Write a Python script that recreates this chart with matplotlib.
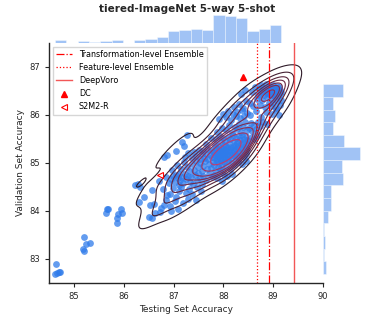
import numpy as np
import matplotlib
matplotlib.use("Agg")
import matplotlib.pyplot as plt
import seaborn as sns
from matplotlib.colors import LinearSegmentedColormap

# (testing acc, validation acc) of the sampled ensembles, grouped by region
tail = [
    (84.64, 82.89), (84.62, 82.69), (84.67, 82.71), (84.70, 82.72), (84.72, 82.73),
    (85.20, 83.46), (85.19, 83.21), (85.20, 83.17), (85.24, 83.31), (85.32, 83.33),
    (85.64, 83.96), (85.68, 84.04), (85.67, 84.05), (85.87, 83.74), (85.87, 83.86),
    (85.89, 83.93), (85.95, 84.04), (85.97, 83.95),
]

lower = [
    (86.50, 83.88), (86.57, 83.85), (86.63, 83.95), (86.72, 83.97), (86.95, 83.99),
    (86.31, 84.19), (86.53, 84.13), (86.60, 84.15), (86.81, 84.13), (86.74, 84.06),
    (86.85, 84.22), (86.93, 84.10), (87.02, 84.20), (87.08, 84.05), (87.18, 84.16),
    (87.30, 84.25), (87.45, 84.22),
    (86.41, 84.30), (86.33, 84.51), (86.57, 84.44), (86.87, 84.33), (86.78, 84.45),
    (86.92, 84.36), (86.98, 84.48), (87.05, 84.30), (87.10, 84.42), (87.15, 84.50),
    (87.24, 84.38), (87.32, 84.46), (87.38, 84.35), (87.47, 84.49), (87.55, 84.41),
    (86.23, 84.54), (86.28, 84.56), (86.70, 84.62), (86.84, 84.70), (86.91, 84.58),
    (86.95, 84.66), (86.99, 84.72), (87.02, 84.60), (87.05, 84.75), (87.08, 84.68),
    (87.10, 84.55), (87.11, 84.78), (87.13, 84.64), (87.16, 84.71), (87.19, 84.58),
    (87.22, 84.77), (87.26, 84.66), (87.30, 84.73), (87.34, 84.60), (87.36, 84.70),
    (87.40, 84.57), (87.43, 84.76), (87.47, 84.64), (87.50, 84.79), (87.53, 84.68),
    (87.57, 84.56), (87.60, 84.72), (87.66, 84.65), (87.72, 84.78), (87.77, 84.70),
    (87.82, 84.74), (87.88, 84.68), (87.93, 84.79), (87.97, 84.62), (88.01, 84.76),
    (88.08, 84.73), (88.18, 84.78),
]

center = [
    (86.97, 84.85), (87.06, 84.95), (87.14, 84.88), (87.20, 85.02), (87.27, 84.92),
    (87.33, 84.84), (87.37, 84.97), (87.41, 84.86), (87.45, 85.04), (87.49, 84.91),
    (87.54, 84.99), (87.57, 84.83), (87.59, 84.94), (87.63, 85.05), (87.67, 84.87),
    (87.71, 84.98), (87.75, 84.90), (87.79, 85.03), (87.81, 84.96), (87.84, 84.84),
    (87.87, 85.05), (87.89, 84.92), (87.92, 85.01), (87.94, 84.88), (87.96, 85.06),
    (87.98, 84.97), (88.00, 84.85), (88.02, 85.02), (88.05, 84.93), (88.09, 85.04),
    (88.13, 84.88), (88.17, 85.00), (88.21, 84.95), (88.25, 85.06), (88.30, 85.03),
    (88.38, 84.97), (88.45, 85.05),
    (86.80, 85.12), (86.87, 85.17), (87.05, 85.25), (87.22, 85.12), (87.30, 85.20),
    (87.38, 85.10), (87.42, 85.22), (87.46, 85.14), (87.51, 85.28), (87.54, 85.09),
    (87.57, 85.18), (87.59, 85.25), (87.62, 85.11), (87.65, 85.19), (87.68, 85.30),
    (87.70, 85.08), (87.73, 85.16), (87.75, 85.27), (87.78, 85.13), (87.79, 85.22),
    (87.81, 85.10), (87.82, 85.24), (87.84, 85.17), (87.85, 85.31), (87.87, 85.08),
    (87.88, 85.21), (87.89, 85.14), (87.91, 85.28), (87.92, 85.19), (87.93, 85.11),
    (87.95, 85.25), (87.96, 85.32), (87.97, 85.16), (87.98, 85.22), (87.99, 85.09),
    (88.00, 85.29), (88.01, 85.18), (88.02, 85.13), (88.02, 85.26), (88.03, 85.20),
    (88.04, 85.12), (88.05, 85.27), (88.07, 85.19), (88.08, 85.31), (88.10, 85.09),
    (88.11, 85.23), (88.13, 85.16), (88.14, 85.29), (88.16, 85.11), (88.18, 85.21),
    (88.19, 85.33), (88.21, 85.14), (88.22, 85.25), (88.24, 85.18), (88.25, 85.30),
    (88.27, 85.15), (88.29, 85.26), (88.31, 85.10), (88.33, 85.21), (88.35, 85.31),
    (88.37, 85.17), (88.39, 85.27), (88.41, 85.12), (88.43, 85.23), (88.45, 85.32),
    (88.46, 85.19), (88.48, 85.28),
    (87.17, 85.44), (87.20, 85.35), (87.27, 85.58), (87.66, 85.40), (87.76, 85.52),
    (87.83, 85.38), (87.86, 85.49), (87.90, 85.35), (87.93, 85.57), (87.96, 85.44),
    (87.99, 85.52), (88.02, 85.37), (88.04, 85.46), (88.06, 85.36), (88.09, 85.55),
    (88.11, 85.41), (88.14, 85.50), (88.16, 85.34), (88.19, 85.59), (88.21, 85.45),
    (88.23, 85.38), (88.25, 85.53), (88.27, 85.42), (88.29, 85.35), (88.31, 85.56),
    (88.33, 85.47), (88.35, 85.39), (88.37, 85.58), (88.40, 85.44), (88.42, 85.51),
    (88.44, 85.36), (88.45, 85.57), (88.47, 85.48), (88.48, 85.40), (88.52, 85.45),
    (88.57, 85.55), (88.62, 85.50), (88.68, 85.58),
    (87.88, 85.65), (87.97, 85.72), (88.06, 85.68), (88.12, 85.79), (88.18, 85.63),
    (88.24, 85.74), (88.28, 85.70), (88.32, 85.82), (88.36, 85.64), (88.40, 85.76),
    (88.43, 85.85), (88.47, 85.69), (88.51, 85.73), (88.55, 85.84), (88.58, 85.66),
    (88.62, 85.79), (88.66, 85.71), (88.69, 85.86), (88.73, 85.78), (88.80, 85.85),
    (88.88, 85.82),
]

upper = [
    (87.92, 85.91), (88.00, 86.02), (88.05, 85.95), (88.10, 86.08), (88.15, 85.90),
    (88.20, 86.03), (88.25, 85.98), (88.28, 86.06), (88.33, 85.93), (88.38, 86.11),
    (88.42, 85.97), (88.47, 86.04), (88.54, 86.01), (88.65, 86.09), (88.76, 85.96),
    (88.86, 86.07), (88.97, 86.03), (89.05, 86.10), (89.12, 85.99),
    (88.22, 86.17), (88.31, 86.22), (88.39, 86.15), (88.46, 86.30), (88.53, 86.25),
    (88.60, 86.18), (88.68, 86.34), (88.73, 86.20), (88.78, 86.31), (88.83, 86.16),
    (88.88, 86.38), (88.92, 86.26), (88.95, 86.19), (88.98, 86.33), (89.00, 86.24),
    (89.03, 86.37), (89.06, 86.15), (89.08, 86.29), (89.10, 86.39), (89.13, 86.21),
    (89.15, 86.32),
    (88.36, 86.44), (88.44, 86.52), (88.58, 86.47), (88.64, 86.58), (88.70, 86.42),
    (88.72, 86.55), (88.74, 86.43), (88.76, 86.62), (88.78, 86.49), (88.80, 86.57),
    (88.82, 86.41), (88.84, 86.52), (88.86, 86.64), (88.87, 86.46), (88.89, 86.54),
    (88.91, 86.60), (88.92, 86.44), (88.93, 86.51), (88.95, 86.48), (88.96, 86.58),
    (88.97, 86.42), (88.99, 86.53), (89.00, 86.63), (89.01, 86.46), (89.02, 86.56),
    (89.04, 86.41), (89.05, 86.51), (89.07, 86.61), (89.08, 86.45), (89.09, 86.55),
    (89.11, 86.49), (89.12, 86.59), (89.13, 86.43), (89.14, 86.52), (89.16, 86.47),
]

# reference methods
dc = (88.40, 86.80)
s2m2r = (86.73, 84.76)
feature_ens = 88.68
transform_ens = 88.91
deepvoro = 89.42

pts = np.array(tail + lower + center + upper)
test_acc, val_acc = pts[:, 0], pts[:, 1]
body = np.array(lower + center + upper)

blue = "#2f7bea"
W, H = 374, 320
fig = plt.figure(figsize=(W / 100, H / 100), dpi=100)
ax = fig.add_axes([49 / W, 37 / H, 274 / W, 240 / H])
ax_top = fig.add_axes([49 / W, 277 / H, 274 / W, 29 / H], sharex=ax)
ax_right = fig.add_axes([323 / W, 37 / H, 39 / W, 240 / H], sharey=ax)

ax.scatter(test_acc, val_acc, s=24, color=blue, alpha=0.75, linewidths=0, zorder=1)
# density contours of the main cloud (outlying tail left out)
cmap = LinearSegmentedColormap.from_list("kde", ["#2e1a28", "#e8437a"])
sns.kdeplot(x=body[:, 0], y=body[:, 1], ax=ax, cmap=cmap, levels=10, linewidths=0.8, zorder=2)

l1 = ax.axvline(transform_ens, color="red", ls="-.", lw=0.9)
l2 = ax.axvline(feature_ens, color="red", ls=":", lw=0.9)
l3 = ax.axvline(deepvoro, color="#f03a3a", lw=1.0, alpha=0.85)
m1, = ax.plot(*dc, "^", color="red", ms=4, ls="none")
m2, = ax.plot(*s2m2r, "<", mfc="none", mec="red", mew=0.8, ms=4, ls="none")

ax.legend([l1, l2, l3, m1, m2],
          ["Transformation-level Ensemble", "Feature-level Ensemble", "DeepVoro", "DC", "S2M2-R"],
          loc="upper left", fontsize=5.8, frameon=True, edgecolor="0.8", fancybox=False)

ax_top.hist(test_acc, bins=20, color=blue, alpha=0.45, edgecolor="white", linewidth=0.6)
ax_right.hist(val_acc, bins=15, orientation="horizontal", color=blue, alpha=0.45,
              edgecolor="white", linewidth=0.6)
ax_top.axis("off")
ax_right.axis("off")

ax.set_xlim(84.5, 90)
ax.set_ylim(82.5, 87.5)
ax.set_xticks([85, 86, 87, 88, 89, 90])
ax.set_yticks([83, 84, 85, 86, 87])
for s in ["top", "right"]:
    ax.spines[s].set_visible(False)
for s in ["left", "bottom"]:
    ax.spines[s].set_color(".15")
    ax.spines[s].set_linewidth(1.0)
ax.tick_params(labelsize=6, length=3, width=0.8, color=".15", labelcolor=".15")
ax.set_xlabel("Testing Set Accuracy", fontsize=6.5, color=".15", labelpad=3)
ax.set_ylabel("Validation Set Accuracy", fontsize=6.5, color=".15", labelpad=3)

fig.text(0.5, 1 - 9 / H, "tiered-ImageNet 5-way 5-shot", ha="center", va="center",
         fontsize=7.5, fontweight="bold", color=".15")

fig.savefig("out.png", dpi=100)
